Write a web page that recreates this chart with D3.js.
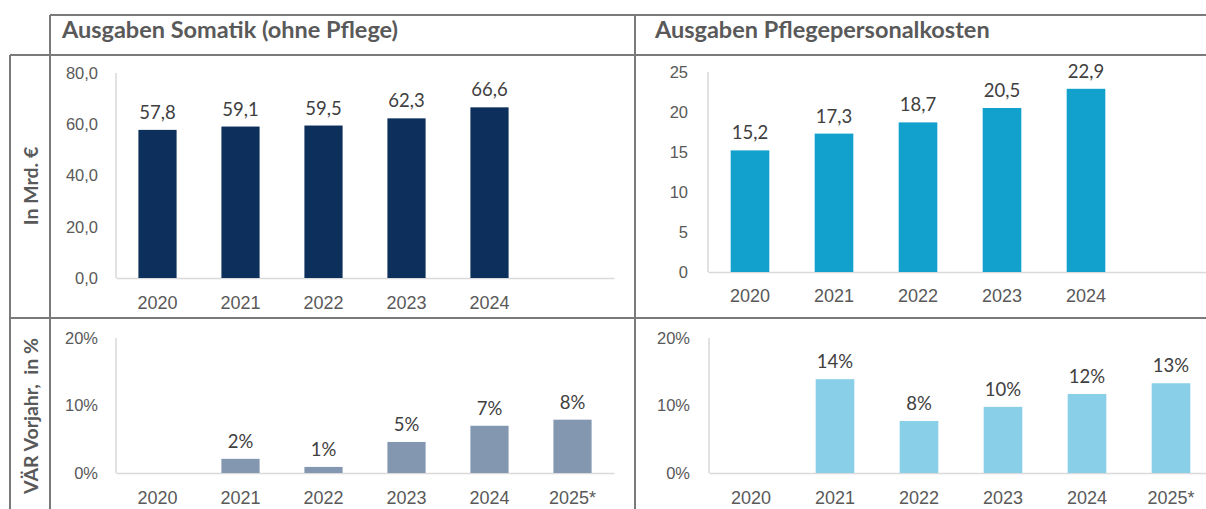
<!DOCTYPE html>
<html>
<head>
<meta charset="utf-8">
<script src="https://cdn.jsdelivr.net/npm/d3@7"></script>
<style>
    body { margin: 0; background: #fff; }
    svg { font-family: Lato, "Open Sans", sans-serif; }
    .frame { stroke: #7a7a7a; stroke-width: 2; }
    .tick line { display: none; }
    .domain { stroke: #d9d9d9; stroke-width: 1.5; }
    .tick text { fill: #595959; }
</style>
</head>
<body>
<script>
// data
var yearsTop = ["2020", "2021", "2022", "2023", "2024"]
var yearsBottom = ["2020", "2021", "2022", "2023", "2024", "2025*"]
var somatik = [57.8, 59.1, 59.5, 62.3, 66.6]
var pflege = [15.2, 17.3, 18.7, 20.5, 22.9]
var somatikChange = [null, 0.021, 0.009, 0.046, 0.070, 0.079]
var pflegeChange = [null, 0.139, 0.077, 0.098, 0.117, 0.133]
var somatikTicks = [0, 20, 40, 60, 80]
var pflegeTicks = [0, 5, 10, 15, 20, 25]
var changeTicks = [0, 0.1, 0.2]
var titles = ["Ausgaben Somatik (ohne Pflege)", "Ausgaben Pflegepersonalkosten"]
var rowTitles = ["In Mrd. €", "VÄR Vorjahr,  in %"]

const width = 1206
const height = 509
const textColor = "#595959"

// german number format
var de = d3.formatLocale({ decimal: ",", thousands: ".", grouping: [3], currency: ["", " €"] })

var svg = d3.select("body")
    .append("svg")
    .attr("width", width)
    .attr("height", height)

//frame lines of the table layout
var frame = [
    [50, 15, width, 15],
    [10, 55, width, 55],
    [10, 318, width, 318],
    [10, 55, 10, height],
    [50, 15, 50, height],
    [635, 15, 635, height]
]
svg.selectAll("line.frame")
    .data(frame)
    .enter()
    .append("line")
    .attr("class", "frame")
    .attr("x1", d => d[0])
    .attr("y1", d => d[1])
    .attr("x2", d => d[2])
    .attr("y2", d => d[3])

//column titles
svg.selectAll("text.title")
    .data(titles)
    .enter()
    .append("text")
    .attr("class", "title")
    .attr("x", (d, i) => i == 0 ? 62 : 655)
    .attr("y", 38)
    .attr("font-size", 23.5)
    .attr("font-weight", "bold")
    .attr("fill", textColor)
    .text(d => d)

//row titles, rotated
svg.selectAll("text.rowtitle")
    .data(rowTitles)
    .enter()
    .append("text")
    .attr("class", "rowtitle")
    .attr("text-anchor", "middle")
    .attr("transform", (d, i) => "translate(38," + (i == 0 ? 186 : 416) + ") rotate(-90)")
    .attr("font-size", 19.5)
    .attr("font-weight", "bold")
    .attr("fill", textColor)
    .style("white-space", "pre")
    .text(d => d)

function drawPanel(opt) {
    var xScale = d3.scaleBand()
        .domain(yearsBottom)
        .range([opt.x0, opt.x1])
        .paddingInner(0.54)
        .paddingOuter(0.27)

    var yScale = d3.scaleLinear()
        .domain([0, opt.max])
        .range([opt.y0, opt.y1])

    var g = svg.append("g")

    //y axis, only the light line and labels
    var yAxis = d3.axisLeft(yScale)
        .tickValues(opt.ticks)
        .tickFormat(opt.tickFormat)
        .tickSize(0)
        .tickPadding(opt.tickPad)
    g.append("g")
        .attr("transform", "translate(" + opt.x0 + ",0)")
        .call(yAxis)
        .call(a => a.selectAll(".tick text").attr("font-size", 16.5))
        .call(a => a.select(".domain").attr("d", "M0," + opt.y1 + "V" + opt.y0))

    //x axis
    var xAxis = d3.axisBottom(xScale)
        .tickValues(opt.labels)
        .tickSize(0)
        .tickPadding(opt.xPad)
    g.append("g")
        .attr("transform", "translate(0," + opt.y0 + ")")
        .call(xAxis)
        .call(a => a.selectAll(".tick text").attr("font-size", 18))

    var rows = opt.values.map((v, i) => ({ year: yearsBottom[i], value: v }))
        .filter(d => d.value != null)

    //bars
    g.selectAll("rect")
        .data(rows)
        .enter()
        .append("rect")
        .attr("x", d => xScale(d.year))
        .attr("y", d => yScale(d.value))
        .attr("width", xScale.bandwidth())
        .attr("height", d => opt.y0 - yScale(d.value))
        .attr("fill", opt.color)

    //value labels
    g.selectAll("text.value")
        .data(rows)
        .enter()
        .append("text")
        .attr("class", "value")
        .attr("text-anchor", "middle")
        .attr("x", d => xScale(d.year) + xScale.bandwidth() / 2)
        .attr("y", d => yScale(d.value) - 11)
        .attr("font-size", 18.5)
        .attr("fill", "#404040")
        .text(d => opt.labelFormat(d.value))
}

drawPanel({
    x0: 116, x1: 614, y0: 278, y1: 73, max: 80,
    ticks: somatikTicks, tickFormat: de.format(".1f"), tickPad: 18, xPad: 18,
    labels: yearsTop, values: somatik, color: "#0c2f5c", labelFormat: de.format(".1f")
})
drawPanel({
    x0: 708, x1: 1212, y0: 272, y1: 72, max: 25,
    ticks: pflegeTicks, tickFormat: de.format("d"), tickPad: 20, xPad: 17,
    labels: yearsTop, values: pflege, color: "#12a1cd", labelFormat: de.format(".1f")
})
drawPanel({
    x0: 116, x1: 614, y0: 473, y1: 338, max: 0.2,
    ticks: changeTicks, tickFormat: de.format(".0%"), tickPad: 18, xPad: 18,
    labels: yearsBottom, values: somatikChange, color: "#8497b0", labelFormat: de.format(".0%")
})
drawPanel({
    x0: 709, x1: 1213, y0: 473, y1: 338, max: 0.2,
    ticks: changeTicks, tickFormat: de.format(".0%"), tickPad: 19, xPad: 18,
    labels: yearsBottom, values: pflegeChange, color: "#89cfe8", labelFormat: de.format(".0%")
})
</script>
</body>
</html>
